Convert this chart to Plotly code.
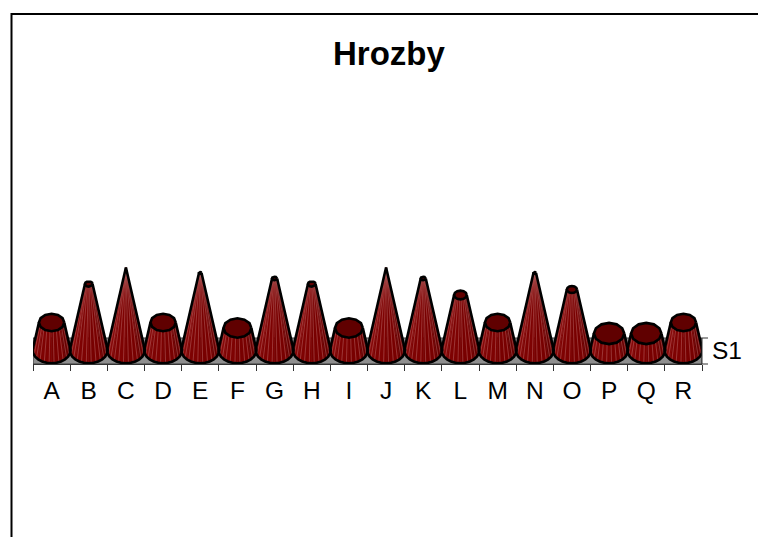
import math
import plotly.graph_objects as go

title = "Hrozby"
series_name = "S1"
categories = list("ABCDEFGHIJKLMNOPQR")
values = [5, 12, 15, 5, 14, 4, 13, 12, 4, 15, 13, 10, 5, 14, 11, 3, 3, 5]
y_max = 15

W, H = 758, 537
LEFT, RIGHT, TOP, BOTTOM = 33, 702, 242, 364
PX_PER_UNIT = 5.5
Y_LOW = -(BOTTOM - 350) / PX_PER_UNIT
Y_HIGH = Y_LOW + (BOTTOM - TOP) / PX_PER_UNIT
UNIT_X = (RIGHT - LEFT) / len(categories)
RX = 19.0 / UNIT_X
RY = 13.2 / PX_PER_UNIT
SIDES = 12

SHADES = ["#860808", "#7e0202", "#780000", "#680000"]
TOP_FILL = "#600000"
STREAK = "rgba(205,140,140,0.38)"


def ring(cx, cy, rx, ry, a0, a1, n):
    pts = []
    for k in range(n + 1):
        a = math.radians(a0 + (a1 - a0) * k / n)
        pts.append((cx + rx * math.cos(a), cy + ry * math.sin(a)))
    return pts


shade_x = [[] for _ in SHADES]
shade_y = [[] for _ in SHADES]
streak_x, streak_y = [], []
top_x, top_y = [], []
edge_x, edge_y = [], []

FACETS = 24
for i, v in enumerate(values):
    f = 1 - v / y_max
    base = ring(i, 0, RX, RY, 180, 360, FACETS)
    head = ring(i, v, RX * f, RY * f, 180, 360, FACETS)
    for k in range(FACETS):
        frac = (k + 0.5) / FACETS
        s = min(int(frac * len(SHADES)), len(SHADES) - 1)
        quad = [base[k], base[k + 1], head[k + 1], head[k], base[k]]
        shade_x[s] += [p[0] for p in quad] + [None]
        shade_y[s] += [p[1] for p in quad] + [None]
    for k in range(1, FACETS, 2):
        streak_x += [base[k][0], head[k][0], None]
        streak_y += [base[k][1], head[k][1], None]
    # silhouette
    poly = ring(i, 0, RX, RY, 180, 360, SIDES)
    edge_x += [p[0] for p in poly] + [i + RX * f, None, i - RX, i - RX * f, None]
    edge_y += [p[1] for p in poly] + [v, None, 0, v, None]
    # upper cap
    if f > 0:
        cap = ring(i, v, RX * f, RY * f, 0, 360, SIDES)
        top_x += [p[0] for p in cap] + [None]
        top_y += [p[1] for p in cap] + [None]

x_end = len(categories) - 0.5
band_top = (350 - 338) / PX_PER_UNIT

fig = go.Figure()

fig.add_trace(go.Scatter(
    x=[-0.5, x_end, x_end, -0.5, -0.5],
    y=[band_top, band_top, Y_LOW, Y_LOW, band_top],
    mode="lines", fill="toself", fillcolor="#8f8f8f",
    line=dict(color="#3a3a3a", width=1), hoverinfo="skip", showlegend=False))

for s, col in enumerate(SHADES):
    fig.add_trace(go.Scatter(
        x=shade_x[s], y=shade_y[s], mode="lines", fill="toself", fillcolor=col,
        line=dict(color=col, width=0.5), hoverinfo="skip", showlegend=False,
        cliponaxis=False))

fig.add_trace(go.Scatter(
    x=streak_x, y=streak_y, mode="lines",
    line=dict(color=STREAK, width=1), hoverinfo="skip", showlegend=False,
    cliponaxis=False))

fig.add_trace(go.Scatter(
    x=edge_x, y=edge_y, mode="lines",
    line=dict(color="#000000", width=2.6), hoverinfo="skip", showlegend=False,
    cliponaxis=False))

fig.add_trace(go.Scatter(
    x=top_x, y=top_y, mode="lines", fill="toself", fillcolor=TOP_FILL,
    line=dict(color="#000000", width=2.6), hoverinfo="skip", showlegend=False,
    cliponaxis=False))


def px(x):
    return (x - LEFT) / (RIGHT - LEFT)


def py(y):
    return (BOTTOM - y) / (BOTTOM - TOP)


frame = dict(color="#000000", width=2)
shapes = [
    dict(type="line", xref="paper", yref="paper", x0=px(11.5), x1=px(11.5), y0=py(13), y1=py(537), line=frame),
    dict(type="line", xref="paper", yref="paper", x0=px(11), x1=px(758), y0=py(14), y1=py(14), line=frame),
    dict(type="line", xref="paper", yref="paper", x0=px(702), x1=px(708), y0=py(338), y1=py(338),
         line=dict(color="#333333", width=1)),
    dict(type="line", xref="paper", yref="paper", x0=px(702), x1=px(708), y0=py(364), y1=py(364),
         line=dict(color="#333333", width=1)),
    dict(type="line", xref="paper", yref="paper", x0=px(702), x1=px(702), y0=py(338), y1=py(364),
         line=dict(color="#333333", width=1)),
]

annotations = [
    dict(text=f"<b>{title}</b>", xref="paper", yref="paper", x=px(389.5), y=py(53),
         xanchor="center", yanchor="middle", showarrow=False,
         font=dict(family="Liberation Sans", size=33, color="#000000")),
    dict(text=series_name, xref="paper", yref="paper", x=px(710), y=py(350),
         xanchor="left", yanchor="middle", showarrow=False,
         font=dict(family="Liberation Sans", size=24.5, color="#000000")),
]

fig.update_layout(
    width=W, height=H,
    autosize=False,
    margin=dict(l=LEFT, r=W - RIGHT, t=TOP, b=H - BOTTOM, pad=0),
    paper_bgcolor="#ffffff", plot_bgcolor="#ffffff",
    showlegend=False,
    shapes=shapes, annotations=annotations,
    xaxis=dict(
        range=[-0.5, x_end], tickmode="array",
        tickvals=list(range(len(categories))), ticktext=categories,
        ticks="outside", ticklen=5, tickcolor="rgba(0,0,0,0)",
        ticklabelstandoff=0,
        tickfont=dict(family="Liberation Sans", size=24.5, color="#000000"),
        showgrid=False, zeroline=False, showline=True, linecolor="#333333", linewidth=1,
        minor=dict(tick0=-0.5, dtick=1, ticks="outside", ticklen=6, tickwidth=1,
                   tickcolor="#333333", showgrid=False),
        fixedrange=True),
    yaxis=dict(range=[Y_LOW, Y_HIGH], visible=False, fixedrange=True),
)

fig.write_html(
    "out.html",
    config=dict(displayModeBar=False),
    post_script="document.body.style.margin='0';document.documentElement.style.overflow='hidden';",
)
